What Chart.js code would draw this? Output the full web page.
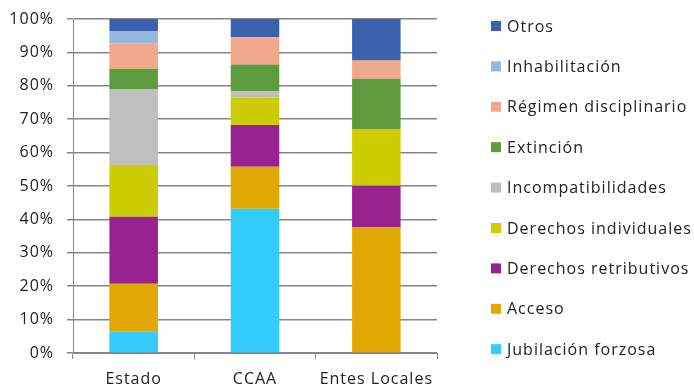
<!DOCTYPE html>
<html><head><meta charset="utf-8">
<script src="https://cdn.jsdelivr.net/npm/chart.js@4/dist/chart.umd.min.js"></script>
<style>html,body{margin:0;padding:0;background:#fff}</style>
</head><body>
<canvas id="c" width="694" height="389"></canvas>
<script>
const categories = ["Estado", "CCAA", "Entes Locales"];
const jubilacionForzosa = [6.5, 43.2, 0];
const acceso = [14.2, 12.6, 37.6];
const derechosRetributivos = [20.1, 12.5, 12.5];
const derechosIndividuales = [15.5, 8.2, 17.0];
const incompatibilidades = [22.6, 1.8, 0];
const extincion = [6.2, 8.1, 15.0];
const regimenDisciplinario = [7.6, 8.1, 5.5];
const inhabilitacion = [3.7, 0, 0];
const otros = [3.6, 5.5, 12.4];
const yTicks = [0,10,20,30,40,50,60,70,80,90,100];

const series = [
  ["Jubilación forzosa", jubilacionForzosa, "#33CCFF"],
  ["Acceso", acceso, "#E0A800"],
  ["Derechos retributivos", derechosRetributivos, "#992291"],
  ["Derechos individuales", derechosIndividuales, "#CCCC00"],
  ["Incompatibilidades", incompatibilidades, "#BFBFBF"],
  ["Extinción", extincion, "#5E9A3E"],
  ["Régimen disciplinario", regimenDisciplinario, "#F2A88A"],
  ["Inhabilitación", inhabilitacion, "#95B8E0"],
  ["Otros", otros, "#3A62AC"]
];
const font = "'Open Sans', sans-serif";

const spacing = {
  id: 'spacing',
  beforeUpdate(chart) { chart.ctx.letterSpacing = '1px'; },
  beforeDraw(chart) { chart.ctx.letterSpacing = '1px'; }
};

const sideLegend = {
  id: 'sideLegend',
  afterDraw(chart) {
    const ctx = chart.ctx;
    const ds = chart.data.datasets.slice().reverse();
    const x0 = chart.chartArea.right + 54;
    const y0 = 26, step = 40.4;
    ctx.save();
    ctx.letterSpacing = '1px';
    ctx.font = "16px " + font;
    ctx.textBaseline = 'middle';
    ctx.textAlign = 'left';
    ds.forEach((d, i) => {
      const y = y0 + i * step;
      ctx.fillStyle = d.backgroundColor;
      ctx.fillRect(x0, y - 5, 10, 10);
      ctx.fillStyle = '#222';
      ctx.fillText(d.label, x0 + 16, y + 1);
    });
    ctx.restore();
  }
};

new Chart(document.getElementById('c'), {
  type: 'bar',
  data: {
    labels: categories,
    datasets: series.map(s => ({label: s[0], data: s[1], backgroundColor: s[2], borderWidth: 0,
      barPercentage: 0.4, categoryPercentage: 1}))
  },
  options: {
    responsive: false, animation: false,
    layout: {padding: {top: 19, left: 3, right: 257, bottom: 0}},
    plugins: {
      tooltip: {enabled: false},
      legend: {display: false}
    },
    scales: {
      x: {
        stacked: true,
        grid: {drawOnChartArea: false, drawTicks: true, tickLength: 6, color: '#868686', offset: true},
        border: {color: '#868686'},
        ticks: {color: '#222', font: {family: font, size: 16, lineHeight: 1.0}, padding: 12},
        afterFit: ax => { ax.height = 36; ax.paddingLeft = 0; ax.paddingRight = 0; }
      },
      y: {
        stacked: true, min: 0, max: 100,
        afterBuildTicks: ax => { ax.ticks = yTicks.map(v => ({value: v})); },
        afterFit: ax => { ax.width = 70; ax.paddingTop = 0; ax.paddingBottom = 0; },
        grid: {color: '#868686', tickLength: 6, lineWidth: 1.5},
        border: {color: '#868686'},
        ticks: {color: '#222', font: {family: font, size: 16}, padding: 13, callback: v => v + '%'}
      }
    }
  },
  plugins: [spacing, sideLegend]
});
</script>
</body></html>
